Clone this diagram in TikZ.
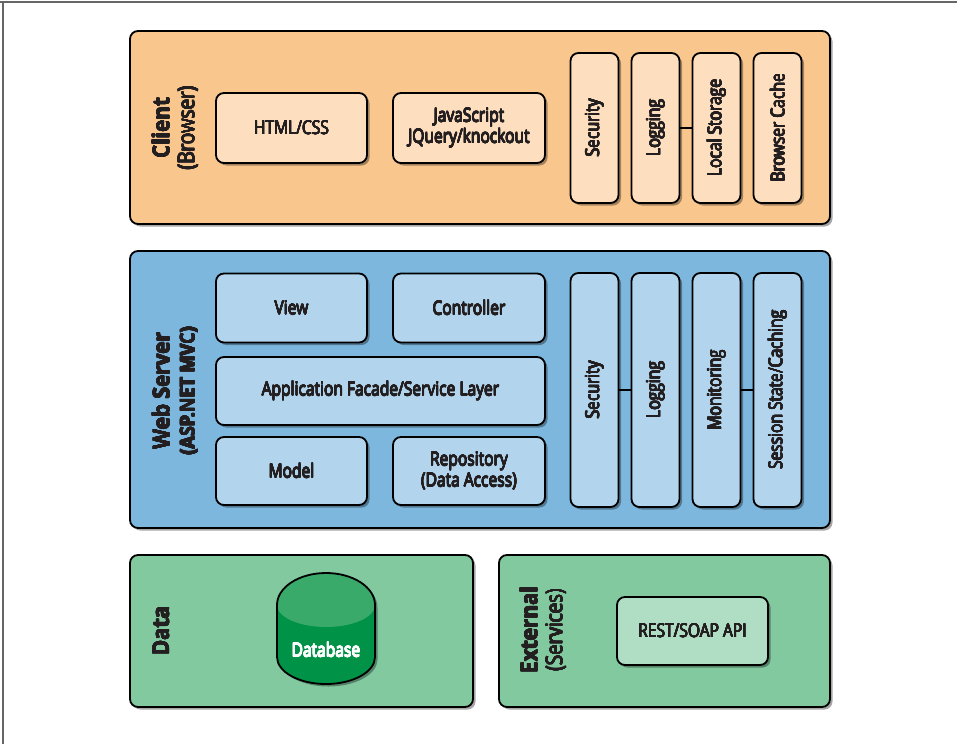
\documentclass[tikz,border=0pt]{standalone}
\usepackage{fontspec}
\usepackage{graphicx}
\usepackage[copies]{contour}
\setmainfont{Open Sans}[FakeStretch=0.82,BoldFeatures={FakeStretch=0.9}]
\usetikzlibrary{shadows}
\definecolor{cpanel}{RGB}{249,199,142}
\definecolor{cbox}{RGB}{253,222,190}
\definecolor{wpanel}{RGB}{126,183,222}
\definecolor{wbox}{RGB}{178,212,236}
\definecolor{gpanel}{RGB}{130,201,160}
\definecolor{gbox}{RGB}{176,222,196}
\definecolor{dbdark}{RGB}{0,146,70}
\definecolor{dblight}{RGB}{58,170,106}
\definecolor{txt}{RGB}{35,31,32}
\contourlength{0.3pt}
\contournumber{12}
\newcommand{\tb}[1]{\contour{txt}{#1}}
\newcommand{\tw}[1]{\contour{white}{#1}}
\newcommand{\rt}[1]{\rotatebox{90}{\tb{#1}}}
\tikzset{
  dshadow/.style={drop shadow={shadow xshift=2.5pt,shadow yshift=-2.5pt,opacity=0.35,fill=black}},
  panel/.style={draw=black,line width=1.8pt,rounded corners=8pt,inner sep=0pt,dshadow},
  box/.style={draw=black,line width=1.8pt,rounded corners=8pt,inner sep=0pt,dshadow,align=center,text=txt,font=\fontsize{19}{21}\selectfont},
  vbox/.style={box,minimum width=48pt},
  lbl/.style={rotate=90,align=center,text=txt,font=\fontsize{23}{25}\selectfont,inner sep=0pt},
  link/.style={draw=black,line width=1.8pt}
}
\begin{document}
\begin{tikzpicture}[x=1pt,y=-1pt]
\useasboundingbox (0,0) rectangle (957,744);
\fill[white] (0,0) rectangle (957,744);
\draw[line width=1.5pt,gray!80!black] (0,2) -- (957,2);
\draw[line width=1.5pt,gray!80!black] (3,2) -- (3,744);

% panels
\node[panel,fill=cpanel,minimum width=700pt,minimum height=193pt] (client) at (480,127.5) {};
\node[panel,fill=wpanel,minimum width=700pt,minimum height=277pt] (web) at (480,389.5) {};
\node[panel,fill=gpanel,minimum width=343pt,minimum height=152pt] (data) at (301.5,631) {};
\node[panel,fill=gpanel,minimum width=331pt,minimum height=152pt] (ext) at (664.5,631) {};

% panel labels
\node[lbl] (clientlbl) at (175,128) {\textbf{\tb{Client}}\\\tb{(Browser)}};
\node[lbl] (weblbl) at (175,391) {\textbf{\tb{Web Server}}\\{\fontsize{20}{22}\selectfont\textbf{\tb{(ASP.NET MVC)}}}};
\node[lbl] (datalbl) at (161,631) {\textbf{\tb{Data}}};
\node[lbl] (extlbl) at (543,630) {\textbf{\tb{External}}\\\tb{(Services)}};

% client boxes
\node[box,fill=cbox,minimum width=151pt,minimum height=70pt] (html) at (291.5,128) {\tb{HTML/CSS}};
\node[box,fill=cbox,minimum width=152pt,minimum height=70pt] (js) at (469,128) {\tb{JavaScript}\\\tb{JQuery/knockout}};
\node[vbox,fill=cbox,minimum height=150pt] (csec) at (594.5,128) {\rt{Security}};
\node[vbox,fill=cbox,minimum height=150pt] (clog) at (655.5,128) {\rt{Logging}};
\node[vbox,fill=cbox,minimum height=150pt] (cls) at (716.5,128) {\rt{Local Storage}};
\node[vbox,fill=cbox,minimum height=150pt] (cbc) at (777.5,128) {\rt{Browser Cache}};
\draw[link] (clog.east) -- (cls.west);

% web boxes
\node[box,fill=wbox,minimum width=151pt,minimum height=69pt] (view) at (291.5,308) {\tb{View}};
\node[box,fill=wbox,minimum width=152pt,minimum height=69pt] (ctrl) at (469,308) {\tb{Controller}};
\node[box,fill=wbox,minimum width=329pt,minimum height=68pt] (facade) at (380.5,391) {\tb{Application Facade/Service Layer}};
\node[box,fill=wbox,minimum width=151pt,minimum height=68pt] (model) at (291.5,471) {\tb{Model}};
\node[box,fill=wbox,minimum width=152pt,minimum height=68pt] (repo) at (469,471) {\tb{Repository}\\\tb{(Data Access)}};
\node[vbox,fill=wbox,minimum height=234pt] (wsec) at (594.5,390) {\rt{Security}};
\node[vbox,fill=wbox,minimum height=234pt] (wlog) at (655.5,390) {\rt{Logging}};
\node[vbox,fill=wbox,minimum height=234pt] (wmon) at (716.5,390) {\rt{Monitoring}};
\node[vbox,fill=wbox,minimum height=234pt] (wses) at (777.5,390) {\rt{Session State/Caching}};
\draw[link] (wsec.east) -- (wlog.west);
\draw[link] (wmon.east) -- (wses.west);

% database cylinder
\fill[black,opacity=0.35] (279.5,607.5) arc[start angle=180,end angle=0,x radius=49pt,y radius=32pt] -- (377.5,659.5) arc[start angle=0,end angle=-180,x radius=49pt,y radius=27pt] -- cycle;
\fill[dbdark] (277,605) arc[start angle=180,end angle=0,x radius=49pt,y radius=32pt] -- (375,657) arc[start angle=0,end angle=-180,x radius=49pt,y radius=27pt] -- cycle;
\fill[dblight] (277,605) arc[start angle=180,end angle=0,x radius=49pt,y radius=32pt] arc[start angle=0,end angle=-180,x radius=49pt,y radius=22pt] -- cycle;
\draw[black,line width=1.8pt] (277,605) arc[start angle=180,end angle=0,x radius=49pt,y radius=32pt] -- (375,657) arc[start angle=0,end angle=-180,x radius=49pt,y radius=27pt] -- cycle;
\node[text=white,font=\fontsize{19}{21}\selectfont,inner sep=0pt] (db) at (326,650) {\tw{Database}};

% external box
\node[box,fill=gbox,minimum width=151pt,minimum height=68pt] (rest) at (692.5,631) {\tb{REST/SOAP API}};
\end{tikzpicture}
\end{document}
